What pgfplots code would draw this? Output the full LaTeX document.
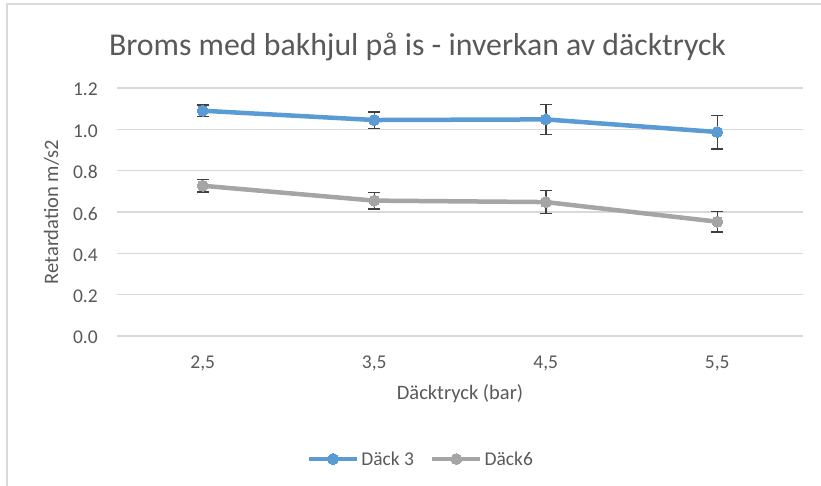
\documentclass[border=0pt]{standalone}
\usepackage{pgfplots}
\pgfplotsset{compat=1.18}
\usepackage{fontspec}
\setmainfont{Carlito}
\definecolor{cblue}{HTML}{5B9BD5}
\definecolor{cgray}{HTML}{A5A5A5}
\definecolor{cgrid}{HTML}{D9D9D9}
\definecolor{ctext}{HTML}{595959}
\definecolor{cerr}{HTML}{404040}
\begin{document}
\begin{tikzpicture}
\path[use as bounding box] (0pt,0pt) rectangle (821pt,486pt);
\draw[cgrid, line width=1.5pt] (7pt,0pt) -- (7pt,482pt) -- (821pt,482pt);
\node[anchor=base, text=ctext, font=\fontsize{31.8}{34}\selectfont] at (417.5pt,430pt) {Broms med bakhjul på is - inverkan av däcktryck};
\node[anchor=base, text=ctext, font=\fontsize{20.5}{24}\selectfont] at (460pt,86pt) {Däcktryck (bar)};
\node[anchor=base, rotate=90, text=ctext, font=\fontsize{20.5}{24}\selectfont] at (58pt,274pt) {Retardation m/s2};
\begin{axis}[
  at={(117pt,150pt)}, anchor=south west,
  scale only axis, width=686pt, height=248pt,
  xmin=-0.5, xmax=3.5, ymin=0, ymax=1.2,
  xtick={0,1,2,3}, xticklabels={{2,5},{3,5},{4,5},{5,5}},
  ytick={0,0.2,0.4,0.6,0.8,1.0,1.2},
  yticklabel style={/pgf/number format/fixed, /pgf/number format/fixed zerofill, /pgf/number format/precision=1},
  /pgf/number format/assume math mode=true,
  axis line style={draw=none},
  major tick length=0pt,
  ymajorgrids, grid style={cgrid, line width=1.2pt},
  tick label style={text=ctext, font=\fontsize{19.5}{22}\selectfont},
  xticklabel style={anchor=base, yshift=-33pt},
  yticklabel style={anchor=east, inner sep=0pt, xshift=-19pt, yshift=-1.5pt},
  clip=false,
  legend style={at={(0.443,-0.496)}, anchor=center, draw=none, fill=none,
    legend columns=2, font=\fontsize{19.5}{22}\selectfont, text=ctext,
    /tikz/every even column/.append style={column sep=14pt}},
  legend cell align=left,
  legend image code/.code={\draw[#1, mark repeat=2, mark phase=2] plot coordinates {(0pt,0pt) (24pt,0pt) (48pt,0pt)};},
]
\addplot[cblue, line width=4.5pt, mark=*, mark size=5.5pt, mark options={line width=0pt, fill=cblue},
  error bars/.cd, y dir=both, y explicit,
  error bar style={line width=1.5pt, cerr},
  error mark options={cerr, line width=1.5pt, mark size=6pt, rotate=90}]
  coordinates {(0,1.090) +- (0,0.028) (1,1.045) +- (0,0.040) (2,1.048) +- (0,0.072) (3,0.987) +- (0,0.081)};
\addlegendentry{Däck 3}
\addplot[cgray, line width=4.5pt, mark=*, mark size=5.5pt, mark options={line width=0pt, fill=cgray},
  error bars/.cd, y dir=both, y explicit,
  error bar style={line width=1.5pt, cerr},
  error mark options={cerr, line width=1.5pt, mark size=6pt, rotate=90}]
  coordinates {(0,0.727) +- (0,0.030) (1,0.655) +- (0,0.040) (2,0.648) +- (0,0.055) (3,0.553) +- (0,0.050)};
\addlegendentry{Däck6}
\end{axis}
\end{tikzpicture}
\end{document}
